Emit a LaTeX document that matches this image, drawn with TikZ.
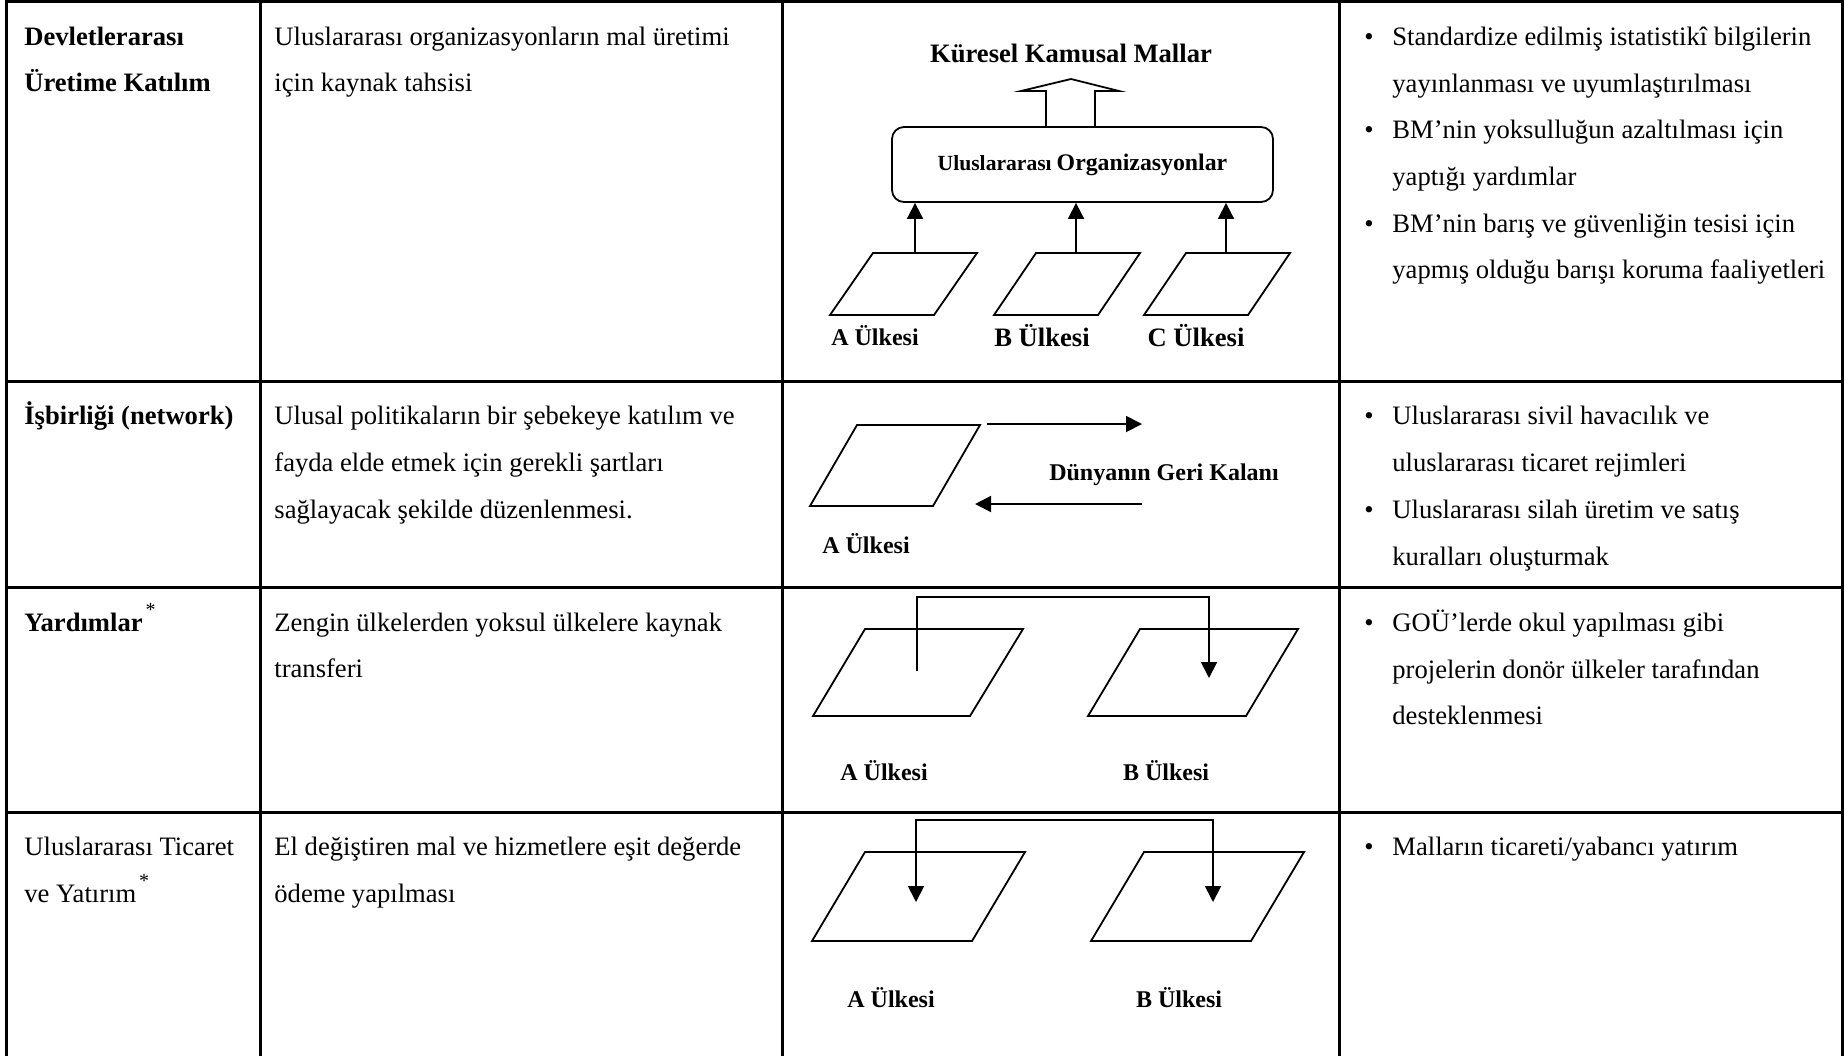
\documentclass[tikz,border=0pt]{standalone}
\usepackage{fontspec}
\setmainfont{Liberation Serif}
\usetikzlibrary{arrows.meta}
\begin{document}
\begin{tikzpicture}[x=0.5pt,y=-0.5pt,
  tline/.style={line width=1.5pt},
  dline/.style={line width=0.9pt},
  tx/.style={inner sep=0pt, anchor=base west, font=\fontsize{13.3}{16}\selectfont},
  txb/.style={inner sep=0pt, anchor=base west, font=\fontsize{13.3}{16}\selectfont\bfseries},
  bul/.style={inner sep=0pt, anchor=base, font=\fontsize{13.3}{16}\selectfont},
  lbl/.style={inner sep=0pt, anchor=base, font=\fontsize{12}{14}\selectfont\bfseries},
  lblbig/.style={inner sep=0pt, anchor=base, font=\fontsize{13.3}{16}\selectfont\bfseries},
  arr/.style={dline, -{Triangle[length=8pt,width=8pt]}},
  arrb/.style={dline, {Triangle[length=8pt,width=8pt]}-{Triangle[length=8pt,width=8pt]}}
]
\useasboundingbox (0,0) rectangle (1845,1056);

% ---- table grid ----
\draw[tline] (6,1.5) -- (1842,1.5);
\draw[tline] (6,381) -- (1842,381);
\draw[tline] (6,587) -- (1842,587);
\draw[tline] (6,812) -- (1842,812);
\foreach \xx in {6,260,782,1339,1842} \draw[tline] (\xx,0) -- (\xx,1056);

% ---- row 1 texts ----
\node[txb] (l1a) at (24,45) {Devletlerarası};
\node[txb] (l1b) at (24,91) {Üretime Katılım};
\node[tx] (m1a) at (274,45) {Uluslararası organizasyonların mal üretimi};
\node[tx] (m1b) at (274,91) {için kaynak tahsisi};
\node[bul] (b1a) at (1369,45) {•};
\node[tx] (r1a) at (1392,45) {Standardize edilmiş istatistikî bilgilerin};
\node[tx] (r1b) at (1392,92) {yayınlanması ve uyumlaştırılması};
\node[bul] (b1b) at (1369,138) {•};
\node[tx] (r1c) at (1392,138) {BM’nin yoksulluğun azaltılması için};
\node[tx] (r1d) at (1392,185) {yaptığı yardımlar};
\node[bul] (b1c) at (1369,232) {•};
\node[tx] (r1e) at (1392,232) {BM’nin barış ve güvenliğin tesisi için};
\node[tx] (r1f) at (1392,278) {yapmış olduğu barışı koruma faaliyetleri};

% ---- row 1 diagram ----
\node[lblbig] (kkm) at (1071,62) {Küresel Kamusal Mallar};
\draw[dline, line join=miter] (1046,127) -- (1046,91) -- (1021,91) -- (1071,79) -- (1119,91) -- (1095,91) -- (1095,127);
\node[draw, dline, rounded corners=6pt, inner sep=0pt, minimum width=190.5pt, minimum height=37.5pt,
      font=\bfseries] (box) at (1082.5,164.5)
  {{\fontsize{10.8}{12}\selectfont Uluslararası} {\fontsize{11.9}{14}\selectfont Organizasyonlar}};
\draw[dline] (830,315) -- (934,315) -- (977,253) -- (873,253) -- cycle;
\draw[dline] (994,315) -- (1098,315) -- (1140,253) -- (1036,253) -- cycle;
\draw[dline] (1144,315) -- (1248,315) -- (1290,253) -- (1186,253) -- cycle;
\coordinate (pa1) at (915,253);
\coordinate (pb1) at (1076,253);
\coordinate (pc1) at (1226,253);
\draw[arr] (pa1) -- (pa1 |- box.south);
\draw[arr] (pb1) -- (pb1 |- box.south);
\draw[arr] (pc1) -- (pc1 |- box.south);
\node[lbl] (la1) at (875,345) {A Ülkesi};
\node[lblbig] (lb1) at (1042,346) {B Ülkesi};
\node[lblbig] (lc1) at (1196,346) {C Ülkesi};

% ---- row 2 texts ----
\node[txb] (l2a) at (24,424) {İşbirliği (network)};
\node[tx] (m2a) at (274,424) {Ulusal politikaların bir şebekeye katılım ve};
\node[tx] (m2b) at (274,471) {fayda elde etmek için gerekli şartları};
\node[tx] (m2c) at (274,518) {sağlayacak şekilde düzenlenmesi.};
\node[bul] (b2a) at (1369,424) {•};
\node[tx] (r2a) at (1392,424) {Uluslararası sivil havacılık ve};
\node[tx] (r2b) at (1392,471) {uluslararası ticaret rejimleri};
\node[bul] (b2b) at (1369,518) {•};
\node[tx] (r2c) at (1392,518) {Uluslararası silah üretim ve satış};
\node[tx] (r2d) at (1392,565) {kuralları oluşturmak};

% ---- row 2 diagram ----
\draw[dline] (810,506) -- (933,506) -- (980,425) -- (857,425) -- cycle;
\coordinate (q2a) at (987,424);
\coordinate (q2b) at (1142,424);
\coordinate (q2c) at (1142,504);
\coordinate (q2d) at (975,504);
\draw[arr] (q2a) -- (q2b);
\draw[arr] (q2c) -- (q2d);
\node[lbl] (rw) at (1164,480) {Dünyanın Geri Kalanı};
\node[lbl] (la2) at (866,553) {A Ülkesi};

% ---- row 3 texts ----
\node[txb] (l3a) at (24,631) {Yardımlar\hspace{1.5pt}\raisebox{0.55em}{\mdseries\fontsize{10}{10}\selectfont *}};
\node[tx] (m3a) at (274,631) {Zengin ülkelerden yoksul ülkelere kaynak};
\node[tx] (m3b) at (274,677) {transferi};
\node[bul] (b3a) at (1369,631) {•};
\node[tx] (r3a) at (1392,631) {GOÜ’lerde okul yapılması gibi};
\node[tx] (r3b) at (1392,678) {projelerin donör ülkeler tarafından};
\node[tx] (r3c) at (1392,724) {desteklenmesi};

% ---- row 3 diagram ----
\draw[dline] (813,716) -- (970,716) -- (1023,629) -- (865,629) -- cycle;
\draw[dline] (1088,716) -- (1246,716) -- (1298,629) -- (1140,629) -- cycle;
\coordinate (c3a) at (917,671);
\coordinate (c3b) at (1209,678);
\draw[arr] (c3a) -- ++(0,-74) -| (c3b);
\node[lbl] (la3) at (884,780) {A Ülkesi};
\node[lbl] (lb3) at (1166,780) {B Ülkesi};

% ---- row 4 texts ----
\node[tx] (l4a) at (24,855) {Uluslararası Ticaret};
\node[tx] (l4b) at (24,902) {ve Yatırım\hspace{1.5pt}\raisebox{0.55em}{\fontsize{10}{10}\selectfont *}};
\node[tx] (m4a) at (274,855) {El değiştiren mal ve hizmetlere eşit değerde};
\node[tx] (m4b) at (274,902) {ödeme yapılması};
\node[bul] (b4a) at (1369,855) {•};
\node[tx] (r4a) at (1392,855) {Malların ticareti/yabancı yatırım};

% ---- row 4 diagram ----
\draw[dline] (812,941) -- (972,941) -- (1025,852) -- (865,852) -- cycle;
\draw[dline] (1091,941) -- (1251,941) -- (1304,852) -- (1144,852) -- cycle;
\coordinate (c4a) at (916,902);
\coordinate (c4b) at (1213,902);
\draw[arrb] (c4a) -- ++(0,-82) -| (c4b);
\node[lbl] (la4) at (891,1007) {A Ülkesi};
\node[lbl] (lb4) at (1179,1007) {B Ülkesi};
\end{tikzpicture}
\end{document}
